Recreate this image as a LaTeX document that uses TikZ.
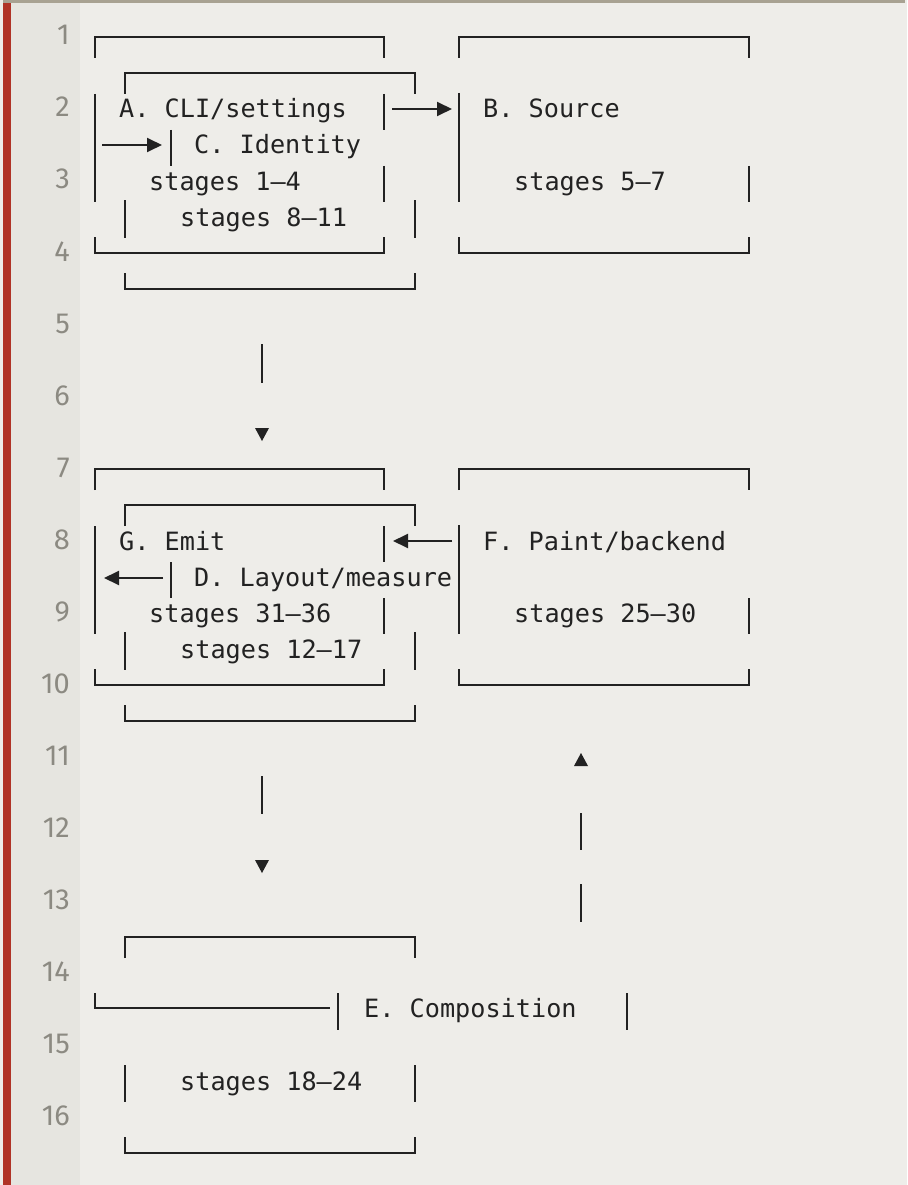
\documentclass[tikz,border=0pt]{standalone}
\usepackage{fontspec}
\setmonofont{DejaVu Sans Mono}
\newfontfamily\gutterfont{Fira Sans}
\usetikzlibrary{arrows.meta}

\definecolor{paper}{HTML}{EEEDE9}
\definecolor{gutter}{HTML}{E6E5E0}
\definecolor{rail}{HTML}{B03326}
\definecolor{rule}{HTML}{A8A292}
\definecolor{ink}{HTML}{222222}
\definecolor{numgray}{HTML}{8C8A82}

\begin{document}
\begin{tikzpicture}[x=1pt,y=-1pt,
    boxline/.style={draw=ink, line width=1.9pt},
    link/.style={draw=ink, line width=1.9pt, -{Triangle[length=15pt,width=14pt]}},
    code/.style={anchor=base west, inner sep=0pt, text=ink, font=\ttfamily\fontsize{25.2}{30}\selectfont},
    lnum/.style={anchor=base east, inner sep=0pt, text=numgray, font=\gutterfont\fontsize{29}{34}\selectfont}
]

% Page
\useasboundingbox (0,0) rectangle (907,1185);
\fill[paper] (0,0) rectangle (907,1185);
\fill[gutter] (11,0) rectangle (80,1185);
\fill[rail] (3,0) rectangle (11,1185);
\fill[rule] (3,0) rectangle (905,3);

% Line numbers
\foreach \n in {1,...,16}
  \node[lnum] (ln\n) at (70,{45+72*(\n-1)}) {\n};

% Upper two rows of boxes (same outline, shifted)
\foreach \dy in {0,432} {
  \begin{scope}[shift={(0,\dy)}]
    % outer left box
    \draw[boxline] (95,58) |- (384,37) -- (384,58);
    \draw[boxline] (95,94) -- (95,202);
    \draw[boxline] (384,94) -- (384,130);
    \draw[boxline] (384,166) -- (384,202);
    \draw[boxline] (95,237) |- (384,253) -- (384,237);
    % inner box
    \draw[boxline] (125,94) |- (415,73) -- (415,94);
    \draw[boxline] (171,130) -- (171,166);
    \draw[boxline] (125,200) -- (125,238);
    \draw[boxline] (415,200) -- (415,238);
    \draw[boxline] (125,273) |- (415,289) -- (415,273);
    % right box
    \draw[boxline] (459,58) |- (749,37) -- (749,58);
    \draw[boxline] (459,93) -- (459,202);
    \draw[boxline] (749,166) -- (749,202);
    \draw[boxline] (459,237) |- (749,253) -- (749,237);
  \end{scope}
}

% Labels
\node[code] (cli) at (119,118) {A. CLI/settings};
\node[code] (source) at (483,118) {B. Source};
\node[code] (ident) at (194,154) {C. Identity};
\node[code] (st1) at (149,190) {stages 1–4};
\node[code] (st5) at (514,190) {stages 5–7};
\node[code] (st8) at (180,226) {stages 8–11};

\node[code] (emit) at (119,550) {G. Emit};
\node[code] (paint) at (483,550) {F. Paint/backend};
\node[code] (layout) at (194,586) {D. Layout/measure};
\node[code] (st31) at (149,622) {stages 31–36};
\node[code] (st25) at (514,622) {stages 25–30};
\node[code] (st12) at (180,658) {stages 12–17};

\node[code] (compose) at (364,1017) {E. Composition};
\node[code] (st18) at (180,1090) {stages 18–24};

% Horizontal arrows
\coordinate (cliOut) at (392,109);
\coordinate (srcIn) at (452,109);
\coordinate (idIn0) at (102,145);
\coordinate (idIn1) at (162,145);
\coordinate (paintOut) at (452,541);
\coordinate (emitIn) at (393,541);
\coordinate (layOut) at (163,578);
\coordinate (layIn) at (104,578);
\draw[link] (cliOut) -- (srcIn);
\draw[link] (idIn0) -- (idIn1);
\draw[link] (paintOut) -- (emitIn);
\draw[link] (layOut) -- (layIn);

% Vertical arrows
\draw[boxline] (262,344) -- (262,383);
\fill[ink] (255,428) -- (269,428) -- (262,441) -- cycle;
\draw[boxline] (262,776) -- (262,814);
\fill[ink] (255,860) -- (269,860) -- (262,873) -- cycle;
\fill[ink] (574,766) -- (588,766) -- (581,753) -- cycle;
\draw[boxline] (581,813) -- (581,850);
\draw[boxline] (581,884) -- (581,922);

% Composition box
\draw[boxline] (125,958) |- (415,937) -- (415,958);
\draw[boxline] (95,993) |- (330,1008);
\draw[boxline] (338,993) -- (338,1030);
\draw[boxline] (627,993) -- (627,1030);
\draw[boxline] (125,1065) -- (125,1102);
\draw[boxline] (415,1065) -- (415,1102);
\draw[boxline] (125,1137) |- (415,1153) -- (415,1137);

\end{tikzpicture}
\end{document}
